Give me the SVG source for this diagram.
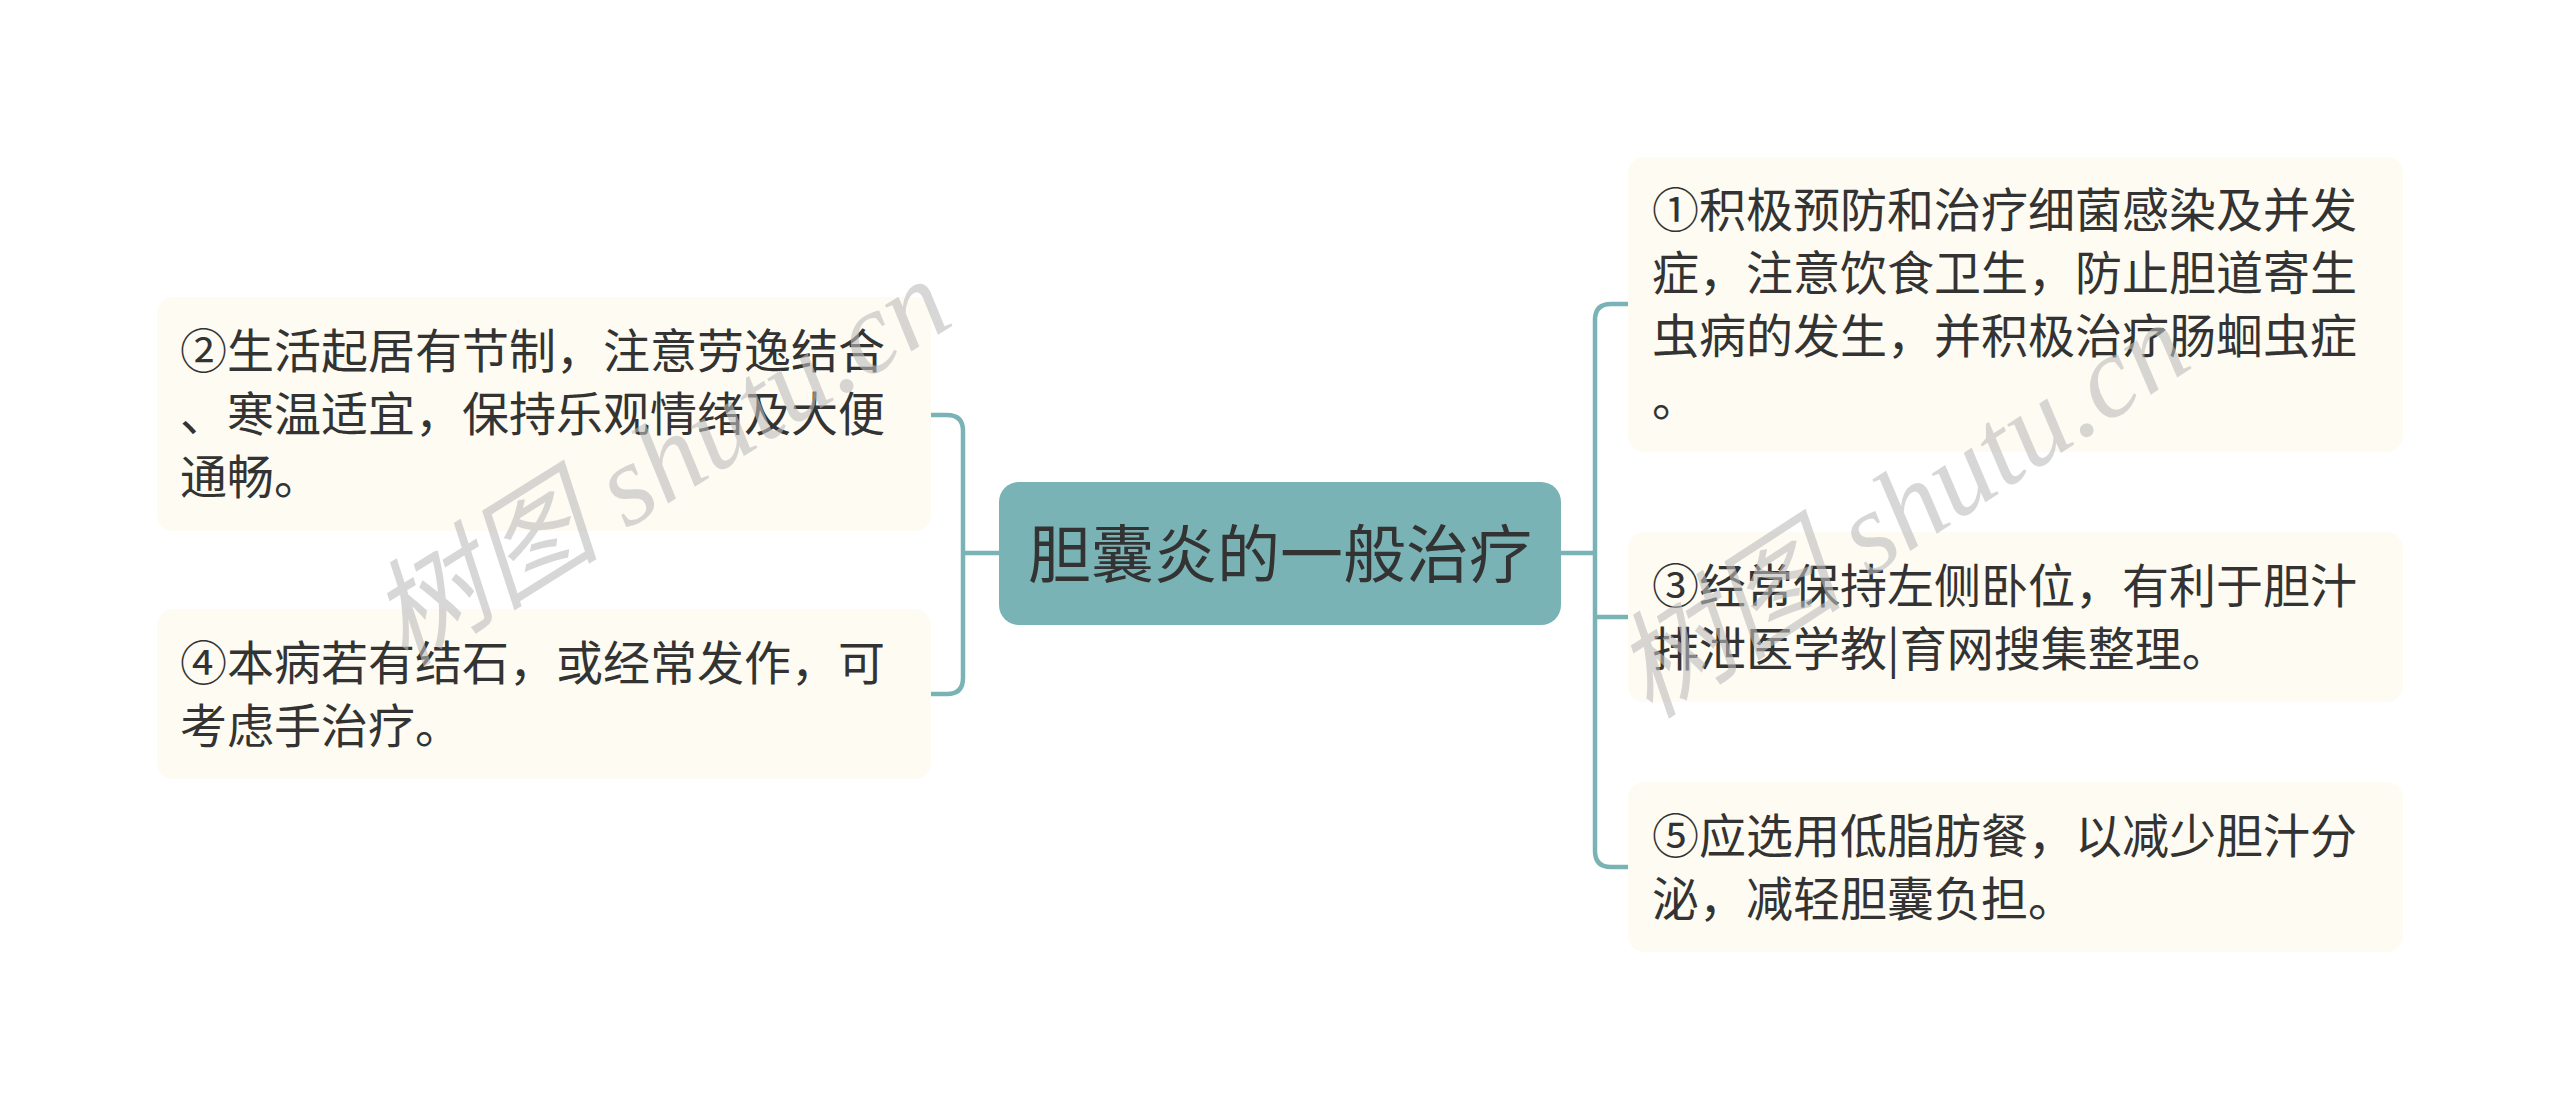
<svg xmlns="http://www.w3.org/2000/svg" width="2560" height="1108" viewBox="0 0 2560 1108">
<style>
.node rect{fill:#fdfbf2;}
.t{font-family:"Noto Sans CJK SC","Noto Sans",sans-serif;font-size:47px;fill:#333333;}
.ct{font-family:"Noto Sans CJK SC","Noto Sans",sans-serif;font-size:63px;fill:#333333;text-anchor:middle;}
.conn path{fill:none;stroke:#7ab3b5;stroke-width:4.5;}
.wm{font-family:"Liberation Serif","Noto Sans CJK SC",serif;font-size:116px;font-style:italic;fill:#bdbdbd;fill-opacity:0.6;}
</style>
<rect width="2560" height="1108" fill="#ffffff"/>
<g id="connectors" class="conn">
<path d="M999,553 H963"/>
<path d="M931,415 H947 Q963,415 963,431 V678 Q963,694 947,694 H931"/>
<path d="M1561,553 H1595"/>
<path d="M1628,304 H1611 Q1595,304 1595,320 V851 Q1595,867 1611,867 H1628"/>
<path d="M1595,617 H1628"/>
</g>
<g id="center">
<rect x="999" y="482" width="562" height="143" rx="20" fill="#7ab3b5"/>
<text class="ct" x="1280" y="577">胆囊炎的一般治疗</text>
</g>
<g id="n2" class="node">
<rect x="157" y="297" width="774" height="234" rx="16"/>
<text class="t"><tspan x="180" y="368">②生活起居有节制，注意劳逸结合</tspan><tspan x="180" y="431">、寒温适宜，保持乐观情绪及大便</tspan><tspan x="180" y="494">通畅。</tspan></text>
</g>
<g id="n4" class="node">
<rect x="157" y="609" width="774" height="170" rx="16"/>
<text class="t"><tspan x="180" y="680">④本病若有结石，或经常发作，可</tspan><tspan x="180" y="743">考虑手治疗。</tspan></text>
</g>
<g id="n1" class="node">
<rect x="1628" y="157" width="775" height="295" rx="16"/>
<text class="t"><tspan x="1652" y="227">①积极预防和治疗细菌感染及并发</tspan><tspan x="1652" y="290">症，注意饮食卫生，防止胆道寄生</tspan><tspan x="1652" y="353">虫病的发生，并积极治疗肠蛔虫症</tspan><tspan x="1652" y="416">。</tspan></text>
</g>
<g id="n3" class="node">
<rect x="1628" y="532" width="775" height="170" rx="16"/>
<text class="t"><tspan x="1652" y="603">③经常保持左侧卧位，有利于胆汁</tspan><tspan x="1652" y="666">排泄医学教|育网搜集整理。</tspan></text>
</g>
<g id="n5" class="node">
<rect x="1628" y="782" width="775" height="170" rx="16"/>
<text class="t"><tspan x="1652" y="853">⑤应选用低脂肪餐，以减少胆汁分</tspan><tspan x="1652" y="916">泌，减轻胆囊负担。</tspan></text>
</g>
<g id="watermark">
<text class="wm" transform="translate(405,668) rotate(-32)">树图 shutu.cn</text>
<text class="wm" transform="translate(1650,720) rotate(-33)">树图 shutu.cn</text>
</g>
</svg>
